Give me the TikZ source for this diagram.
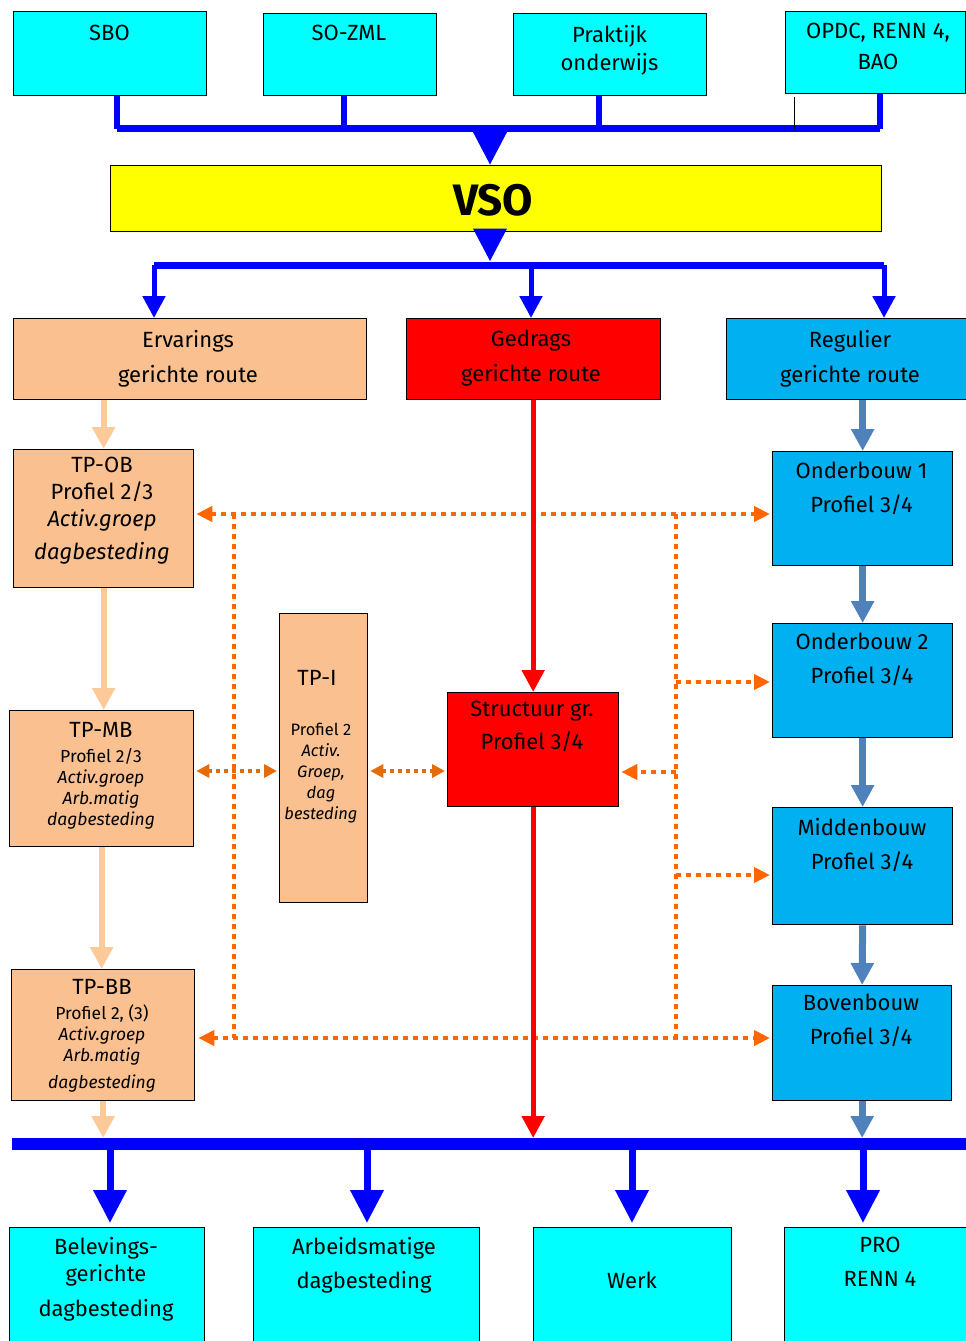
\documentclass[tikz,border=0pt]{standalone}
\usepackage{fontspec}
\setmainfont{Fira Sans}
\usetikzlibrary{arrows.meta}

\definecolor{topcyan}{RGB}{0,255,255}
\definecolor{vsoyellow}{RGB}{255,255,0}
\definecolor{peach}{RGB}{250,192,144}
\definecolor{peachline}{RGB}{251,202,152}
\definecolor{redroute}{RGB}{255,0,0}
\definecolor{regblue}{RGB}{0,176,240}
\definecolor{steel}{RGB}{79,129,189}
\definecolor{busblue}{RGB}{0,0,255}
\definecolor{dotorange}{RGB}{255,102,0}
\definecolor{darkorange}{RGB}{228,108,10}

\tikzset{
  box/.style={draw=black, line width=1.3pt, anchor=north west, inner sep=0pt},
  lbl/.style={anchor=north, align=center, inner sep=0pt, font=\fontsize{22}{27}\selectfont},
  smalllbl/.style={lbl, font=\fontsize{17.5}{21}\selectfont},
  bigtip/.tip={Triangle[width=32pt,length=33pt]},
  midtip/.tip={Triangle[width=22pt,length=22pt]},
  otip/.tip={Triangle[width=15pt,length=16pt]},
  stip/.tip={Triangle[width=13pt,length=13pt]},
  bus/.style={busblue, line width=7pt},
  stem/.style={busblue, line width=6pt},
  bigdown/.style={busblue, line width=7pt, -bigtip},
  down/.style={busblue, line width=5pt, -midtip},
  peacharrow/.style={peachline, line width=6pt, -midtip},
  redarrow/.style={redroute, line width=5pt, -midtip},
  steelarrow/.style={steel, line width=7pt, -midtip},
  dots/.style={dotorange, line width=4.5pt, dash pattern=on 5pt off 5pt},
  sdots/.style={darkorange, line width=3.5pt, dash pattern=on 4pt off 4pt},
}

\begin{document}
\begin{tikzpicture}[x=1pt,y=-1pt]
\clip (0,0) rectangle (966,1341);

% top row
\node[box, fill=topcyan, minimum width=193, minimum height=84] (sbo) at (13,11) {};
\node[box, fill=topcyan, minimum width=173, minimum height=82] (sozml) at (263,13) {};
\node[box, fill=topcyan, minimum width=193, minimum height=82] (prakt) at (513,13) {};
\node[box, fill=topcyan, minimum width=180, minimum height=82] (opdc) at (785,11) {};
\node[lbl] (sbo-t) at (109.5,25) {SBO};
\node[lbl] (sozml-t) at (349,25) {SO-ZML};
\node[lbl, font=\fontsize{22}{28}\selectfont] (prakt-t) at (609.5,25) {Praktijk\\onderwijs};
\node[lbl, font=\fontsize{22}{31}\selectfont] (opdc-t) at (878,23) {OPDC, RENN 4,\\BAO};

\node[box, fill=vsoyellow, minimum width=771, minimum height=66] (vso) at (110,165) {};
\node[inner sep=0pt, font=\fontsize{44}{44}\selectfont\bfseries] (vso-t) at (493,200) {VSO};

\coordinate (t1) at (117,128.5);
\coordinate (t2) at (344,128.5);
\coordinate (t3) at (599,128.5);
\coordinate (t4) at (880,128.5);
\coordinate (tbus) at (490,128.5);
\draw[stem] (t1 |- sbo.south) -- (t1);
\draw[stem] (t2 |- sozml.south) -- (t2);
\draw[stem] (t3 |- prakt.south) -- (t3);
\draw[stem] (t4 |- opdc.south) -- (t4);
\draw[bus] (t1) -- (t4);
\coordinate (stray) at (794,97);
\draw[black, line width=0.8pt] (stray) -- (stray |- t4);
\draw[bigdown] (tbus) -- (tbus |- vso.north);

% routes
\node[box, fill=peach, minimum width=353, minimum height=81] (erv) at (13,318) {};
\node[box, fill=redroute, minimum width=254, minimum height=81] (ged) at (406,318) {};
\node[box, fill=regblue, minimum width=260, minimum height=81] (reg) at (726,318) {};
\node[lbl, font=\fontsize{22}{35}\selectfont] (erv-t) at (188,330) {Ervarings\\gerichte route};
\node[lbl, font=\fontsize{22}{35}\selectfont] (ged-t) at (531,330) {Gedrags\\gerichte route};
\node[lbl, font=\fontsize{22}{35}\selectfont] (reg-t) at (850,330) {Regulier\\gerichte route};

\coordinate (mbus) at (490,265);
\coordinate (m1) at (154,265);
\coordinate (m2) at (531,265);
\coordinate (m3) at (884,265);
\draw[bigdown, shorten >=3.5pt] (vso.south -| mbus) -- (mbus);
\draw[bus] (m1) -- (m3);
\draw[down] (m1) -- (m1 |- erv.north);
\draw[down] (m2) -- (m2 |- ged.north);
\draw[down] (m3) -- (m3 |- reg.north);

% ervarings column
\node[box, fill=peach, minimum width=180, minimum height=138] (tpob) at (13,449) {};
\node[box, fill=peach, minimum width=184, minimum height=136] (tpmb) at (9,710) {};
\node[box, fill=peach, minimum width=183, minimum height=131] (tpbb) at (11,969) {};
\node[box, fill=peach, minimum width=88, minimum height=289] (tpi) at (279,613) {};
\node[lbl] (tpob-t) at (102,457) {TP-OB\\Profiel 2/3\\\textit{Activ.groep}\\[6pt]\textit{dagbesteding}};
\node[lbl] (tpmb-t) at (101,722) {TP-MB};
\node[smalllbl] (tpmb-b) at (101,748) {Profiel 2/3\\\textit{Activ.groep}\\\textit{Arb.matig}\\\textit{dagbesteding}};
\node[lbl] (tpbb-t) at (102,979) {TP-BB};
\node[smalllbl] (tpbb-b) at (102,1004) {Profiel 2, (3)\\\textit{Activ.groep}\\\textit{Arb.matig}\\[6pt]\textit{dagbesteding}};
\node[lbl] (tpi-t) at (317,670) {TP-I};
\node[smalllbl, font=\fontsize{16.5}{21}\selectfont] (tpi-b) at (321,723) {Profiel 2\\\textit{Activ.}\\\textit{Groep,}\\\textit{dag}\\\textit{besteding}};

\draw[peacharrow] (tpob.north |- erv.south) -- (tpob.north);
\draw[peacharrow] (tpob.south) -- (tpob.south |- tpmb.north);
\draw[peacharrow] (tpmb.south) -- (tpmb.south |- tpbb.north);

% gedrags column
\node[box, fill=redroute, minimum width=171, minimum height=114] (str) at (447,692) {};
\node[lbl, font=\fontsize{22}{33}\selectfont] (str-t) at (532,701) {Structuur gr.\\Profiel 3/4};

% regulier column
\node[box, fill=regblue, minimum width=180, minimum height=114] (ob1) at (772,451) {};
\node[box, fill=regblue, minimum width=180, minimum height=114] (ob2) at (772,623) {};
\node[box, fill=regblue, minimum width=180, minimum height=117] (midb) at (772,807) {};
\node[box, fill=regblue, minimum width=179, minimum height=115] (bovb) at (772,985) {};
\node[lbl, font=\fontsize{22}{34}\selectfont] (ob1-t) at (861.5,462) {Onderbouw 1\\Profiel 3/4};
\node[lbl, font=\fontsize{22}{34}\selectfont] (ob2-t) at (862,633) {Onderbouw 2\\Profiel 3/4};
\node[lbl, font=\fontsize{22}{34}\selectfont] (midb-t) at (862,818) {Middenbouw\\Profiel 3/4};
\node[lbl, font=\fontsize{22}{34}\selectfont] (bovb-t) at (861,994) {Bovenbouw\\Profiel 3/4};

\draw[steelarrow] (ob1.north |- reg.south) -- (ob1.north);
\draw[steelarrow] (ob1.south) -- (ob2.north);
\draw[steelarrow] (ob2.south) -- (midb.north);
\draw[steelarrow] (midb.south) -- (bovb.north);

% dotted links
\coordinate (d1) at (234,514);
\coordinate (d2) at (676,514);
\coordinate (d3) at (234,1038);
\coordinate (d4) at (676,1038);
\draw[dots] (d1) -- (d3);
\draw[dots] (d2) -- (d4);
\draw[dots, otip-otip, shorten <=2pt, shorten >=2pt] (tpob.east |- d1) -- (ob1.west |- d1);
\draw[dots, otip-otip, shorten <=3pt, shorten >=2pt] (tpbb.east |- d3) -- (bovb.west |- d3);
\coordinate (e1) at (676,682);
\coordinate (e2) at (676,875);
\coordinate (e3) at (676,772);
\draw[dots, -otip, shorten >=2pt] (e1) -- (e1 -| ob2.west);
\draw[dots, -otip, shorten >=2pt] (e2) -- (e2 -| midb.west);
\draw[dots, -otip, shorten >=2pt] (e3) -- (e3 -| str.east);
\coordinate (s1) at (0,771);
\draw[sdots, stip-stip, shorten <=2pt, shorten >=2pt] (tpmb.east |- s1) -- (tpi.west |- s1);
\draw[sdots, stip-stip, shorten <=2pt, shorten >=2pt] (tpi.east |- s1) -- (str.west |- s1);

\draw[redarrow] (ged.south -| str.north) -- (str.north);

% bottom row
\coordinate (bl) at (12,1144);
\coordinate (br) at (975,1144);
\draw[bus, line width=12pt] (bl) -- (br);
\draw[peacharrow, shorten >=6pt] (tpbb.south) -- (tpbb.south |- bl);
\draw[redarrow, shorten >=6pt] (str.south) -- (str.south |- bl);
\draw[steelarrow, shorten >=6pt] (bovb.south) -- (bovb.south |- bl);

\node[box, fill=topcyan, minimum width=195, minimum height=150] (bel) at (9,1227) {};
\node[box, fill=topcyan, minimum width=226, minimum height=150] (arb) at (253,1227) {};
\node[box, fill=topcyan, minimum width=198, minimum height=150] (werk) at (533,1227) {};
\node[box, fill=topcyan, minimum width=200, minimum height=150] (pro) at (784,1227) {};
\node[lbl] (bel-t) at (106,1237) {Belevings-\\gerichte\\[8pt]dagbesteding};
\node[lbl, font=\fontsize{22}{34}\selectfont] (arb-t) at (364,1237) {Arbeidsmatige\\dagbesteding};
\node[lbl] (werk-t) at (632,1272) {Werk};
\node[lbl, font=\fontsize{22}{34}\selectfont] (pro-t) at (880,1237) {PRO\\RENN 4};

\coordinate (b1) at (110,1144);
\coordinate (b2) at (367,1144);
\coordinate (b3) at (632,1144);
\coordinate (b4) at (863,1144);
\draw[bigdown, shorten >=4pt] (b1) -- (b1 |- bel.north);
\draw[bigdown, shorten >=4pt] (b2) -- (b2 |- arb.north);
\draw[bigdown, shorten >=4pt] (b3) -- (b3 |- werk.north);
\draw[bigdown, shorten >=4pt] (b4) -- (b4 |- pro.north);
\end{tikzpicture}
\end{document}
